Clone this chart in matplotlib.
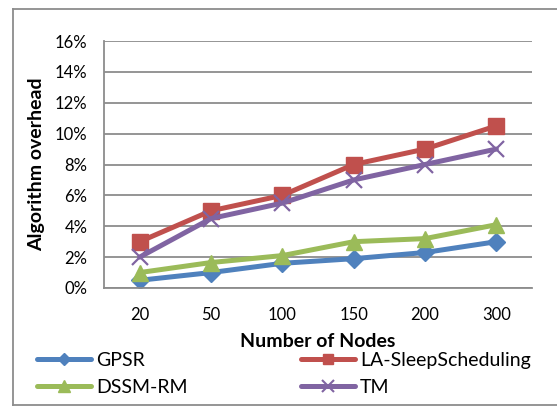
import matplotlib
matplotlib.use("Agg")
import matplotlib.pyplot as plt
from matplotlib.lines import Line2D
from matplotlib.ticker import FuncFormatter

plt.rcParams['font.family'] = ['Lato', 'DejaVu Sans']

nodes = ["20", "50", "100", "150", "200", "300"]
gpsr = [0.5, 1.0, 1.6, 1.9, 2.3, 3.0]
la_sleep = [3.0, 5.0, 6.0, 8.0, 9.0, 10.5]
dssm_rm = [1.0, 1.65, 2.1, 3.0, 3.2, 4.1]
tm = [2.0, 4.5, 5.5, 7.0, 8.0, 9.0]
y_ticks = [0, 2, 4, 6, 8, 10, 12, 14, 16]

series = [
    ("GPSR", gpsr, "#4F81BD", "D", 9),
    ("LA-SleepScheduling", la_sleep, "#C0504D", "s", 11),
    ("DSSM-RM", dssm_rm, "#9BBB59", "^", 12),
    ("TM", tm, "#8064A2", "x", 12),
]

fig = plt.figure(figsize=(5.57, 4.08), dpi=100)
ax = fig.add_axes([104 / 557, 1 - 288 / 408, 428 / 557, 247 / 408])

x = list(range(len(nodes)))
for name, vals, color, marker, ms in series:
    kw = dict(color=color, lw=3.6, marker=marker, markersize=ms,
              markerfacecolor=color, markeredgecolor=color, label=name,
              solid_capstyle='round')
    if marker == "x":
        kw['markeredgewidth'] = 1.6
    ax.plot(x, vals, **kw)

ax.set_xlim(-0.5, len(nodes) - 0.5)
ax.set_ylim(0, 16)
ax.set_yticks(y_ticks)
ax.yaxis.set_major_formatter(FuncFormatter(lambda v, p: f"{v:.0f}%"))
ax.set_xticks(x)
ax.set_xticklabels(nodes)
ax.grid(axis='y', color='#8c8c8c', lw=1.3)
ax.set_axisbelow(True)
for s in ['top', 'right']:
    ax.spines[s].set_visible(False)
ax.spines['left'].set_color('#8c8c8c')
ax.spines['left'].set_linewidth(1.3)
ax.spines['bottom'].set_color('#8c8c8c')
ax.spines['bottom'].set_linewidth(1.3)
ax.tick_params(axis='both', length=0, labelsize=12, colors='black')
ax.tick_params(axis='y', pad=12)
ax.tick_params(axis='x', pad=14)
ax.set_ylabel("Algorithm overhead", fontsize=14, fontweight='bold', labelpad=7)
ax.set_xlabel("Number of Nodes", fontsize=14, fontweight='bold', labelpad=7)

# legend laid out column-wise: left column GPSR / DSSM-RM, right column LA / TM
order = [0, 2, 1, 3]
handles = []
labels = []
for i in order:
    name, _, c, m, ms = series[i]
    handles.append(Line2D([], [], color=c, lw=3.6, marker=m, markersize=ms * 0.7,
                          markerfacecolor=c, markeredgecolor=c,
                          markeredgewidth=1.5 if m == "x" else 1.0,
                          solid_capstyle='round'))
    labels.append(name)
fig.legend(handles, labels, loc='upper left', bbox_to_anchor=(37 / 557, 1 - 352 / 408),
           ncol=2, frameon=False, fontsize=14, handlelength=2.8,
           handletextpad=0.25, columnspacing=5.8, labelspacing=0.5,
           borderaxespad=0, borderpad=0)

# outer chart border
fig.add_artist(Line2D([13 / 557, 13 / 557], [1 - 9 / 408, 1 - 405 / 408],
                      transform=fig.transFigure, color='#8c8c8c', lw=1.3))
fig.add_artist(Line2D([13 / 557, 1], [1 - 9 / 408, 1 - 9 / 408],
                      transform=fig.transFigure, color='#8c8c8c', lw=1.3))
fig.add_artist(Line2D([13 / 557, 1], [1 - 405 / 408, 1 - 405 / 408],
                      transform=fig.transFigure, color='#8c8c8c', lw=1.3))

fig.savefig("out.png", dpi=100)
